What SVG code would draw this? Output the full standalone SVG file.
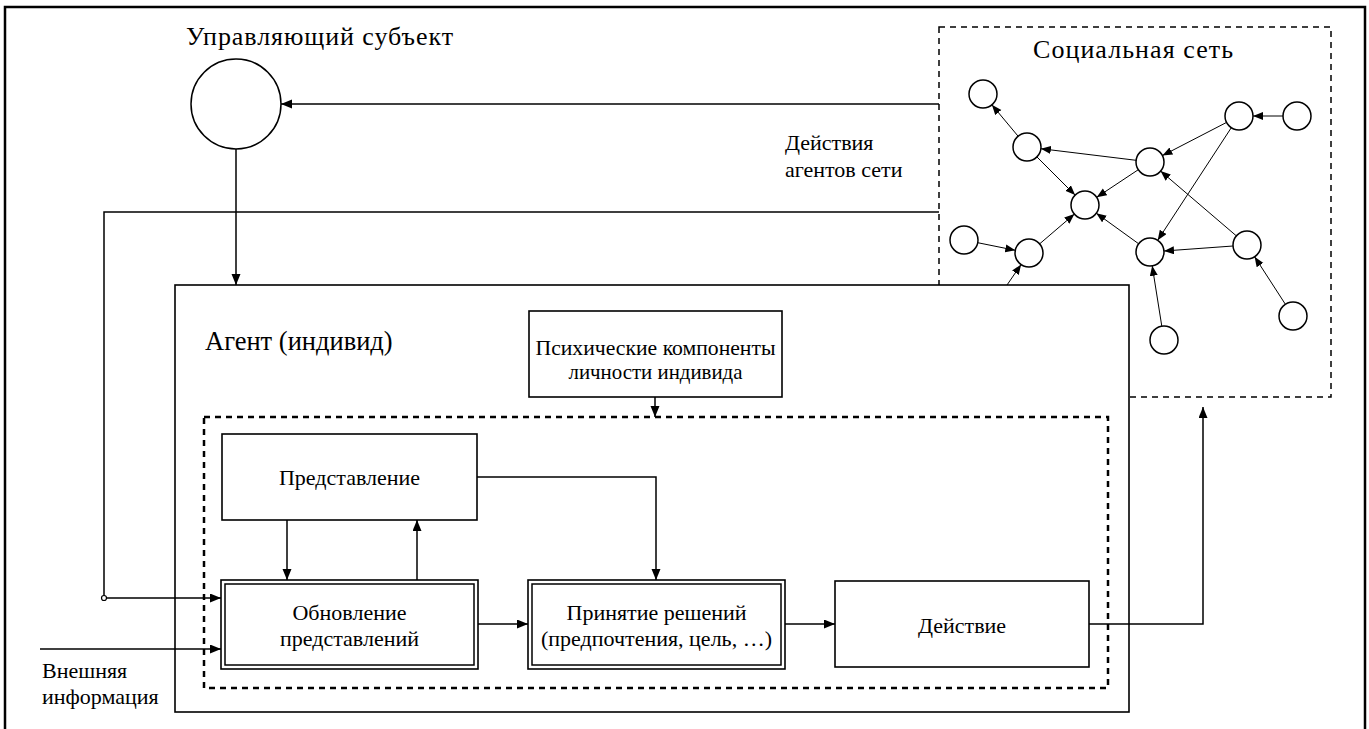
<svg xmlns="http://www.w3.org/2000/svg" width="1369" height="729" viewBox="0 0 1369 729">
<style>
  text { font-family: "Liberation Serif", "Times New Roman", serif; fill: #000; }
  .box { fill: #fff; stroke: #000; stroke-width: 1.6; }
  .ln { fill: none; stroke: #000; stroke-width: 1.5; }
  .eln { fill: none; stroke: #000; stroke-width: 1; }
  .node { fill: #fff; stroke: #000; stroke-width: 1.5; }
</style>
<defs>
  <marker id="ah" markerUnits="userSpaceOnUse" markerWidth="12" markerHeight="10" refX="11" refY="4.5" orient="auto">
    <path d="M0,0 L11,4.5 L0,9 z" fill="#000"/>
  </marker>
  <marker id="ahs" markerUnits="userSpaceOnUse" markerWidth="11" markerHeight="9" refX="10" refY="4" orient="auto">
    <path d="M0,0 L10,4 L0,8 z" fill="#000"/>
  </marker>
</defs>
<rect x="0" y="0" width="1369" height="729" fill="#fff"/>
<rect x="5" y="7" width="1360" height="740" fill="none" stroke="#000" stroke-width="2.5"/>

<g id="subject">
  <text font-family="Liberation Serif" font-size="26" x="186" y="45" textLength="267" lengthAdjust="spacing">Управляющий субъект</text>
  <circle cx="236" cy="104" r="45" class="node"/>
</g>

<g id="social-network">
  <rect x="939" y="27" width="392" height="370" fill="none" stroke="#000" stroke-width="1.5" stroke-dasharray="6,5"/>
  <text font-family="Liberation Serif" font-size="26" x="1033" y="58" textLength="200" lengthAdjust="spacing">Социальная сеть</text>
  <g id="net-edges">
    <line class="eln" x1="1018.1" y1="136.2" x2="991.9" y2="104.8" marker-end="url(#ahs)"/>
    <line class="eln" x1="1136.1" y1="160.3" x2="1040.9" y2="148.7" marker-end="url(#ahs)"/>
    <line class="eln" x1="1036.9" y1="156.9" x2="1075.1" y2="195.1" marker-end="url(#ahs)"/>
    <line class="eln" x1="1138.3" y1="169.7" x2="1096.7" y2="197.3" marker-end="url(#ahs)"/>
    <line class="eln" x1="1226.6" y1="122.4" x2="1162.4" y2="155.6" marker-end="url(#ahs)"/>
    <line class="eln" x1="1283" y1="116" x2="1253" y2="116" marker-end="url(#ahs)"/>
    <line class="eln" x1="1231.3" y1="127.7" x2="1157.7" y2="240.3" marker-end="url(#ahs)"/>
    <line class="eln" x1="1236.4" y1="235.9" x2="1160.6" y2="171.1" marker-end="url(#ahs)"/>
    <line class="eln" x1="1233" y1="246" x2="1164" y2="251" marker-end="url(#ahs)"/>
    <line class="eln" x1="1138.7" y1="243.8" x2="1096.3" y2="213.2" marker-end="url(#ahs)"/>
    <line class="eln" x1="1039.6" y1="243.9" x2="1074.4" y2="214.1" marker-end="url(#ahs)"/>
    <line class="eln" x1="977.7" y1="242.7" x2="1015.3" y2="250.3" marker-end="url(#ahs)"/>
    <line class="eln" x1="1161.8" y1="326.2" x2="1152.2" y2="265.8" marker-end="url(#ahs)"/>
    <line class="eln" x1="1285.4" y1="304.3" x2="1254.6" y2="256.7" marker-end="url(#ahs)"/>
    <line class="eln" x1="1007" y1="285" x2="1021.1" y2="264.5" marker-end="url(#ahs)"/>
  </g>
  <g id="net-nodes">
    <circle class="node" cx="983" cy="94" r="14"/>
    <circle class="node" cx="1027" cy="147" r="14"/>
    <circle class="node" cx="1085" cy="205" r="14"/>
    <circle class="node" cx="1150" cy="162" r="14"/>
    <circle class="node" cx="1239" cy="116" r="14"/>
    <circle class="node" cx="1297" cy="116" r="14"/>
    <circle class="node" cx="964" cy="240" r="14"/>
    <circle class="node" cx="1029" cy="253" r="14"/>
    <circle class="node" cx="1150" cy="252" r="14"/>
    <circle class="node" cx="1247" cy="245" r="14"/>
    <circle class="node" cx="1164" cy="340" r="14"/>
    <circle class="node" cx="1293" cy="316" r="14"/>
  </g>
</g>

<g id="label-actions">
  <text font-family="Liberation Serif" font-size="22" x="785" y="150">Действия</text>
  <text font-family="Liberation Serif" font-size="22" x="785" y="177">агентов сети</text>
</g>

<g id="agent">
  <rect x="175" y="285" width="954" height="427" class="box"/>
  <text font-family="Liberation Serif" font-size="26.5" x="205" y="350">Агент (индивид)</text>
</g>

<g id="psych">
  <rect x="529" y="311" width="253" height="86" class="box"/>
  <text font-family="Liberation Serif" font-size="21" x="655.5" y="355" text-anchor="middle" textLength="240" lengthAdjust="spacingAndGlyphs">Психические компоненты</text>
  <text font-family="Liberation Serif" font-size="21" x="655.5" y="379" text-anchor="middle" textLength="174" lengthAdjust="spacingAndGlyphs">личности индивида</text>
</g>

<g id="process">
  <rect x="204" y="417" width="904" height="271" fill="none" stroke="#000" stroke-width="2.5" stroke-dasharray="6,5"/>
</g>

<g id="representation">
  <rect x="222" y="434" width="255" height="86" class="box"/>
  <text font-family="Liberation Serif" font-size="22" x="349.5" y="485" text-anchor="middle">Представление</text>
</g>

<g id="update">
  <rect x="221" y="580" width="257" height="89" class="box"/>
  <rect x="225" y="584" width="249" height="81" fill="none" stroke="#000" stroke-width="1.5"/>
  <text font-family="Liberation Serif" font-size="22" x="349.5" y="620" text-anchor="middle">Обновление</text>
  <text font-family="Liberation Serif" font-size="22" x="349.5" y="646" text-anchor="middle">представлений</text>
</g>

<g id="decision">
  <rect x="528" y="580" width="257" height="89" class="box"/>
  <rect x="532" y="584" width="249" height="81" fill="none" stroke="#000" stroke-width="1.5"/>
  <text font-family="Liberation Serif" font-size="22" x="656.5" y="620" text-anchor="middle">Принятие решений</text>
  <text font-family="Liberation Serif" font-size="22" x="656.5" y="646" text-anchor="middle">(предпочтения, цель, …)</text>
</g>

<g id="action">
  <rect x="835" y="581" width="254" height="86" class="box"/>
  <text font-family="Liberation Serif" font-size="22" x="962" y="633" text-anchor="middle">Действие</text>
</g>

<g id="external-label">
  <text font-family="Liberation Serif" font-size="22" x="42" y="678">Внешняя</text>
  <text font-family="Liberation Serif" font-size="22" x="42" y="704">информация</text>
</g>

<g id="connectors">
  <line class="ln" x1="939" y1="104" x2="281" y2="104" marker-end="url(#ah)"/>
  <line class="ln" x1="236" y1="149" x2="236" y2="285" marker-end="url(#ah)"/>
  <polyline class="ln" points="939,212 104,212 104,598 221,598" marker-end="url(#ah)"/>
  <circle cx="104" cy="598" r="2.5" fill="#fff" stroke="#000" stroke-width="1.2"/>
  <line class="ln" x1="40" y1="649" x2="221" y2="649" marker-end="url(#ah)"/>
  <line class="ln" x1="287" y1="520" x2="287" y2="580" marker-end="url(#ah)"/>
  <line class="ln" x1="417" y1="580" x2="417" y2="520" marker-end="url(#ah)"/>
  <polyline class="ln" points="477,477 656,477 656,580" marker-end="url(#ah)"/>
  <line class="ln" x1="478" y1="624" x2="528" y2="624" marker-end="url(#ah)"/>
  <line class="ln" x1="785" y1="624" x2="835" y2="624" marker-end="url(#ah)"/>
  <polyline class="ln" points="1089,624 1203,624 1203,407" marker-end="url(#ah)"/>
  <line class="ln" x1="655" y1="397" x2="655" y2="417" marker-end="url(#ah)"/>
</g>
</svg>
